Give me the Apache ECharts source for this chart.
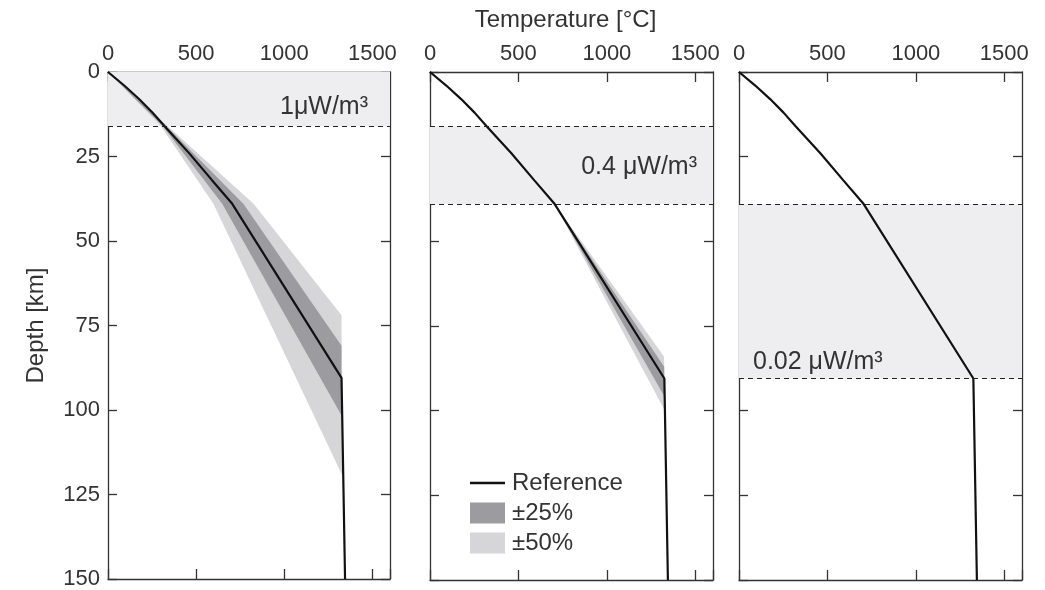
<!DOCTYPE html>
<html>
<head>
<meta charset="utf-8">
<script src="https://cdn.jsdelivr.net/npm/echarts@6/dist/echarts.min.js"></script>
<style>
  html, body { margin: 0; padding: 0; background: #fff; }
  #main { width: 1045px; height: 590px; }
</style>
</head>
<body>
<div id="main"></div>
<script>
// axes
var tempTicks = [0, 500, 1000, 1500];
var depthTicks = [0, 25, 50, 75, 100, 125, 150];

// reference geotherm [temperature, depth]
var refLine = [[0, 0], [92, 4], [176, 8], [252, 12], [320, 16], [460, 24], [590, 32], [705, 39], [1325, 90.5], [1345, 150]];

// layer boundaries (km) and heat production labels
var layerTop = [0, 16, 39];
var layerBottom = [16, 39, 90.5];
var layerLabels = ['1μW/m³', '0.4 μW/m³', '0.02 μW/m³'];

// panel 1: layer 1 heat production varied
var p1Light50Left = [[0, 0], [300, 16], [598, 39], [1335, 120]];
var p1Light50Right = [[0, 0], [338, 16], [826, 39], [1325, 72], [1325, 90.5]];
var p1Dark25Left = [[0, 0], [310, 16], [648, 39], [1329, 102]];
var p1Dark25Right = [[0, 0], [330, 16], [768, 39], [1325, 81], [1325, 90.5]];

// panel 2: layer 2 heat production varied
var p2Light50Left = [[705, 39], [1328, 100]];
var p2Light50Right = [[705, 39], [1323, 84], [1325, 90.5]];
var p2Dark25Left = [[705, 39], [1327, 96]];
var p2Dark25Right = [[705, 39], [1324, 87], [1325, 90.5]];

var bands = [
	[{ left: p1Light50Left, right: p1Light50Right, name: '±50%', color: '#d6d6d8' },
	 { left: p1Dark25Left, right: p1Dark25Right, name: '±25%', color: '#9c9ca0' }],
	[{ left: p2Light50Left, right: p2Light50Right, name: '±50%', color: '#d6d6d8' },
	 { left: p2Dark25Left, right: p2Dark25Right, name: '±25%', color: '#9c9ca0' }],
	[]
];

var FONT = 'Liberation Sans, Arial, sans-serif';
var TXT = '#333';
var gridLeft = [108, 430, 739];
var gridWidth = [282, 283, 283];

var myChart = echarts.init(document.getElementById('main'));

var grids = [], xAxes = [], yAxes = [], series = [];
for (var i = 0; i < 3; i++) {
	grids.push({ left: gridLeft[i], top: 72, width: gridWidth[i], height: 508 });
	// top axis with labels
	xAxes.push({
		type: 'value', gridIndex: i, position: 'top', min: 0, max: 1600, interval: 500,
		name: i == 1 ? 'Temperature [°C]' : '',
		nameLocation: 'middle', nameGap: 40,
		nameTextStyle: { fontSize: 24, color: TXT, fontFamily: FONT, padding: [0, 12, 0, 0] },
		axisLine: { show: true, lineStyle: { color: '#333', width: 1.3 } },
		axisTick: { show: true, inside: true, length: 10, lineStyle: { color: '#333', width: 1.3 } },
		axisLabel: {
			show: true, margin: 7, fontSize: 22, color: TXT, fontFamily: FONT, showMaxLabel: false,
			formatter: function (v) { return tempTicks.indexOf(v) > -1 ? String(v) : ''; }
		},
		splitLine: { show: false }
	});
	// bottom axis: ticks only
	xAxes.push({
		type: 'value', gridIndex: i, position: 'bottom', min: 0, max: 1600, interval: 500,
		axisLine: { show: true, onZero: false, lineStyle: { color: '#333', width: 1.3 } },
		axisTick: { show: true, inside: true, length: 10, lineStyle: { color: '#333', width: 1.3 } },
		axisLabel: { show: false },
		splitLine: { show: false }
	});
	yAxes.push({
		type: 'value', gridIndex: i, position: 'left', inverse: true, min: 0, max: 150, interval: 25,
		name: i == 0 ? 'Depth [km]' : '',
		nameLocation: 'middle', nameGap: 60, nameRotate: 90,
		nameTextStyle: { fontSize: 24, color: TXT, fontFamily: FONT },
		axisLine: { show: true, onZero: false, lineStyle: { color: '#333', width: 1.3 } },
		axisTick: { show: true, inside: true, length: 9, lineStyle: { color: '#333', width: 1.3 } },
		axisLabel: {
			show: i == 0, margin: 8, fontSize: 22, color: TXT, fontFamily: FONT,
			formatter: function (v) { return depthTicks.indexOf(v) > -1 ? String(v) : ''; }
		},
		splitLine: { show: false }
	});
	yAxes.push({
		type: 'value', gridIndex: i, position: 'right', inverse: true, min: 0, max: 150, interval: 25,
		axisLine: { show: true, onZero: false, lineStyle: { color: '#333', width: 1.3 } },
		axisTick: { show: true, inside: true, length: 9, lineStyle: { color: '#333', width: 1.3 } },
		axisLabel: { show: false },
		splitLine: { show: false }
	});

	var labelPos = [
		{ position: 'insideRight', distance: 22, offset: [0, 8] },
		{ position: 'insideRight', distance: 16, offset: [0, 2] },
		{ position: 'insideBottomLeft', distance: 4, offset: [10, 0] }
	][i];

	// shaded layer + dashed boundaries
	series.push({
		name: 'layer' + i, type: 'line', data: [], xAxisIndex: 2 * i, yAxisIndex: 2 * i,
		silent: true, z: 1,
		markArea: {
			silent: true,
			itemStyle: { color: '#eeeef0' },
			label: {
				show: true, position: labelPos.position, distance: labelPos.distance, offset: labelPos.offset,
				fontSize: 25, color: TXT, fontFamily: FONT
			},
			data: [[{ yAxis: layerTop[i], name: layerLabels[i] }, { yAxis: layerBottom[i] }]]
		},
		markLine: {
			silent: true, symbol: 'none', animation: false,
			label: { show: false },
			lineStyle: { color: '#222', type: [5, 4], width: 1.2 },
			data: (layerTop[i] > 0 ? [{ yAxis: layerTop[i] }] : []).concat([{ yAxis: layerBottom[i] }])
		}
	});

	// uncertainty bands
	bands[i].forEach(function (b) {
		var poly = b.left.concat(b.right.slice().reverse());
		series.push({
			name: b.name, type: 'custom', xAxisIndex: 2 * i, yAxisIndex: 2 * i, z: 2,
			itemStyle: { color: b.color },
			data: poly,
			renderItem: function (params, api) {
				if (params.dataIndex !== 0) return null;
				var pts = poly.map(function (p) { return api.coord(p); });
				return { type: 'polygon', shape: { points: pts }, style: { fill: b.color } };
			}
		});
	});

	// reference geotherm
	series.push({
		name: 'Reference', type: 'line', xAxisIndex: 2 * i, yAxisIndex: 2 * i, z: 3,
		symbol: 'none', showSymbol: false, data: refLine,
		lineStyle: { color: '#111', width: 2.2 },
		itemStyle: { color: '#111' }
	});
}

var option = {
	backgroundColor: '#fff',
	animation: false,
	grid: grids,
	xAxis: xAxes,
	yAxis: yAxes,
	legend: {
		orient: 'vertical', left: 465, top: 466,
		itemWidth: 35, itemHeight: 21, itemGap: 6,
		textStyle: { fontSize: 24, lineHeight: 21, color: TXT, fontFamily: FONT, padding: [0, 0, 0, 2] },
		data: [
			// thin bar icon; the tiny corner triangles only stretch its box to 35x21
			{ name: 'Reference', icon: 'path://M0,0L0.01,0L0,0.01Z M0,9.2H35V11.8H0Z M35,21L34.99,21L35,20.99Z' },
			{ name: '±25%', icon: 'rect' },
			{ name: '±50%', icon: 'rect' }
		]
	},
	series: series
};
myChart.setOption(option);
</script>
</body>
</html>
